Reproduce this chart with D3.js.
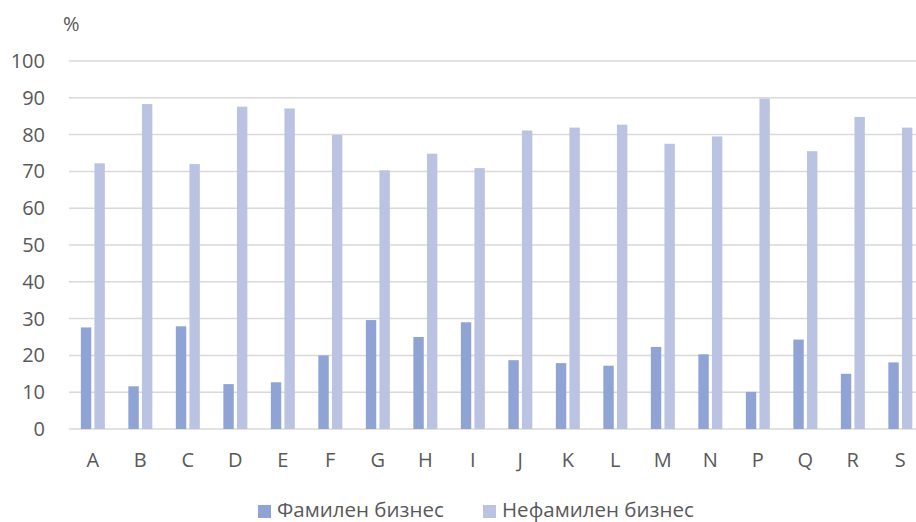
<!DOCTYPE html>
<head>
    <meta charset="utf-8">
    <title>Фамилен бизнес</title>
    <script src="https://cdn.jsdelivr.net/npm/d3@7"></script>
    <style>
        body { margin: 0; background: #fff; }
        text { font-family: "Open Sans", sans-serif; fill: #595959; }
    </style>
</head>
<body>
<div id="container"></div>
<script>
// Données
const categories = ["A", "B", "C", "D", "E", "F", "G", "H", "I", "J", "K", "L", "M", "N", "P", "Q", "R", "S"];
const familyValues = [27.6, 11.6, 27.9, 12.2, 12.7, 20.0, 29.6, 25.0, 29.0, 18.7, 17.9, 17.2, 22.3, 20.3, 10.1, 24.3, 15.0, 18.1];
const nonFamilyValues = [72.2, 88.3, 72.0, 87.6, 87.1, 79.9, 70.3, 74.8, 70.9, 81.1, 81.9, 82.7, 77.5, 79.5, 89.8, 75.5, 84.8, 81.9];
const seriesNames = ["Фамилен бизнес", "Нефамилен бизнес"];
const yTicks = [0, 10, 20, 30, 40, 50, 60, 70, 80, 90, 100];

const width = 916;
const height = 522;
const marginTop = 61;
const marginLeft = 69;
const plotRight = 924;
const plotBottom = 429;

const colors = ["#8FA4D4", "#BAC4E2"];

const svg = d3.create("svg")
    .attr("width", width)
    .attr("height", height);

const x = d3.scaleBand()
    .domain(categories)
    .range([marginLeft, plotRight]);

const y = d3.scaleLinear()
    .domain([0, 100])
    .range([plotBottom, marginTop]);

// Quadrillage
svg.append("g")
    .selectAll("line")
    .data(yTicks)
    .join("line")
    .attr("x1", marginLeft)
    .attr("x2", plotRight)
    .attr("y1", d => y(d))
    .attr("y2", d => y(d))
    .attr("stroke", "#d9d9d9")
    .attr("stroke-width", 1.5);

// Axe Y
const yAxis = svg.append("g")
    .attr("transform", `translate(${marginLeft - 24},0)`)
    .call(d3.axisLeft(y).tickValues(yTicks).tickSize(0).tickPadding(0));
yAxis.select(".domain").remove();
yAxis.selectAll("text")
    .style("font-size", "20px")
    .style("font-family", "'Open Sans', sans-serif")
    .attr("fill", "#595959");

// Axe X
const xAxis = svg.append("g")
    .attr("transform", `translate(0,${plotBottom})`)
    .call(d3.axisBottom(x).tickSize(0).tickPadding(0));
xAxis.select(".domain").remove();
xAxis.selectAll("text")
    .attr("dy", null)
    .attr("y", 38)
    .style("font-size", "20px")
    .style("font-family", "'Open Sans', sans-serif")
    .attr("fill", "#595959");

// Barres
const barW = 10.4;
const groups = [familyValues, nonFamilyValues];
groups.forEach((vals, s) => {
    svg.append("g")
        .selectAll("rect")
        .data(categories)
        .join("rect")
        .attr("x", d => x(d) + x.bandwidth() / 2 - 11.9 + s * 13.6)
        .attr("width", barW)
        .attr("y", (d, i) => y(vals[i]))
        .attr("height", (d, i) => y(0) - y(vals[i]))
        .attr("fill", colors[s]);
});

// Unité
svg.append("text")
    .attr("x", 63)
    .attr("y", 31)
    .style("font-size", "20px")
    .text("%");

// Légende
const legendX = [258, 483];
const legend = svg.append("g");
seriesNames.forEach((name, i) => {
    legend.append("rect")
        .attr("x", legendX[i])
        .attr("y", 505)
        .attr("width", 13)
        .attr("height", 13)
        .attr("fill", colors[i]);
    legend.append("text")
        .attr("x", legendX[i] + 19)
        .attr("y", 517)
        .style("font-size", "20.5px")
        .text(name);
});

container.append(svg.node());
</script>
</body>
